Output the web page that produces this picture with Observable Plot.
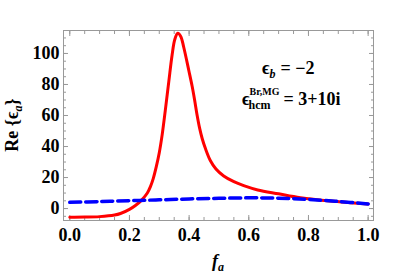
<!DOCTYPE html>
<html><head><meta charset="utf-8">
<script src="https://cdn.jsdelivr.net/npm/d3@7"></script>
<script src="https://cdn.jsdelivr.net/npm/@observablehq/plot@0.6"></script>
<style>body{margin:0;background:#fff}svg{display:block}</style>
</head><body><div id="chart"></div>
<script>
// Red curve (solid): Re{eps_a} vs f_a
const redF = [0, 0.05, 0.1, 0.15, 0.17, 0.2, 0.22, 0.24, 0.26, 0.27, 0.28, 0.29, 0.3, 0.31, 0.32, 0.332, 0.343, 0.352, 0.362, 0.372, 0.382, 0.399, 0.41, 0.418, 0.427, 0.435, 0.444, 0.455, 0.471, 0.49, 0.516, 0.55, 0.583, 0.63, 0.7, 0.773, 0.874, 0.94, 1.0];
const redV = [-5.6, -5.5, -5.2, -4.2, -3.2, -0.5, 2, 5.3, 10, 14, 19.5, 27, 36, 48, 63, 82, 99, 109, 113, 111, 104, 89, 79, 70.5, 60, 52, 45, 38.5, 31, 25.5, 21, 17.3, 14.8, 12, 9.5, 7, 4.8, 3.8, 3.0];
// Blue curve (dashed)
const blueF = [0, 0.1, 0.2, 0.3, 0.4, 0.5, 0.6, 0.7, 0.8, 0.9, 1.0];
const blueV = [4.0, 4.5, 5.1, 5.6, 6.2, 6.6, 6.9, 6.7, 5.9, 4.6, 3.0];
const xTicks = [0, 0.2, 0.4, 0.6, 0.8, 1.0];
const yTicks = [0, 20, 40, 60, 80, 100];
const xMinor = d3.range(0, 1.0001, 0.05);
const yMinor = d3.range(-5, 114, 5);

const red = redF.map((f, i) => ({f, v: redV[i]}));
const blue = blueF.map((f, i) => ({f, v: blueV[i]}));
const serif = "'Liberation Serif', 'Times New Roman', serif";
const frameCol = "#999";

const plot = Plot.plot({
  width: 402, height: 277,
  marginLeft: 63, marginRight: 29, marginTop: 30, marginBottom: 57,
  style: {fontFamily: serif, fontWeight: "bold", fontSize: "18px", color: "black", background: "white"},
  x: {domain: [-0.021, 1.018]},
  y: {domain: [-7.7, 114.8]},
  marks: [
    Plot.frame({stroke: frameCol}),
    Plot.axisX(xTicks, {anchor: "bottom", tickSize: -5, text: null, stroke: frameCol, label: null}),
    Plot.axisX(xMinor, {anchor: "bottom", tickSize: -3, text: null, stroke: frameCol, label: null}),
    Plot.axisX(xTicks, {anchor: "top", tickSize: -5, text: null, stroke: frameCol, label: null}),
    Plot.axisX(xMinor, {anchor: "top", tickSize: -3, text: null, stroke: frameCol, label: null}),
    Plot.axisY(yTicks, {anchor: "left", tickSize: -5, text: null, stroke: frameCol, label: null}),
    Plot.axisY(yMinor, {anchor: "left", tickSize: -3, text: null, stroke: frameCol, label: null}),
    Plot.axisY(yTicks, {anchor: "right", tickSize: -5, text: null, stroke: frameCol, label: null}),
    Plot.axisY(yMinor, {anchor: "right", tickSize: -3, text: null, stroke: frameCol, label: null}),
    Plot.axisX(xTicks, {anchor: "bottom", tickSize: 0, tickPadding: 8, tickFormat: d3.format(".1f"), label: null, fontSize: 18, fontWeight: "bold", fill: "black"}),
    Plot.axisY(yTicks, {anchor: "left", tickSize: 0, tickPadding: 4, tickFormat: d => String(d), label: null, fontSize: 18, fontWeight: "bold", fill: "black"}),
    Plot.line(red, {x: "f", y: "v", stroke: "#ff0000", strokeWidth: 3, curve: "catmull-rom"}),
    Plot.line(blue, {x: "f", y: "v", stroke: "#0000ff", strokeWidth: 3.5, strokeDasharray: "11,5", curve: "catmull-rom"})
  ]
});
document.getElementById("chart").appendChild(plot);

const svg = d3.select(plot);
const sx = plot.scale("x"), sy = plot.scale("y");
function textEl(x, y) {
  return svg.append("text").attr("x", x).attr("y", y).attr("text-anchor", "start")
    .style("font-family", serif).style("font-weight", "bold").style("font-size", "18px")
    .attr("fill", "black");
}

// annotation 1: ϵ_b = −2
{
  const t = textEl(sx.apply(0.646), sy.apply(86.5));
  t.append("tspan").text("ϵ");
  t.append("tspan").text("b").style("font-style", "italic").style("font-size", "12px").attr("dy", 4);
  t.append("tspan").text("= −2").attr("dy", -4).attr("dx", 5);
}
// annotation 2: ϵ_hcm^{Br,MG} = 3+10i
{
  const t = textEl(sx.apply(0.579), sy.apply(66.5));
  t.append("tspan").text("ϵ");
  t.append("tspan").text("Br,MG").style("font-size", "10px").attr("dy", -10);
  t.append("tspan").text("hcm").style("font-size", "12px").attr("dy", 14).attr("dx", -31);
  t.append("tspan").text("= 3+10i").attr("dy", -4).attr("dx", 13);
}
// y label: Re {ϵ_a}
{
  const g = svg.append("g").attr("transform", `translate(18,${(30 + 220) / 2}) rotate(-90)`);
  const t = g.append("text").attr("text-anchor", "middle")
    .style("font-family", serif).style("font-weight", "bold").style("font-size", "18px").attr("fill", "black");
  t.append("tspan").text("Re {");
  t.append("tspan").text("ϵ");
  t.append("tspan").text("a").style("font-style", "italic").style("font-size", "12px").attr("dy", 4);
  t.append("tspan").text("}").attr("dy", -4);
}
// x label: f_a
{
  const t = svg.append("text").attr("x", (63 + 373) / 2).attr("y", 267).attr("text-anchor", "middle")
    .style("font-family", serif).style("font-weight", "bold").style("font-style", "italic").style("font-size", "18px").attr("fill", "black");
  t.append("tspan").text("f");
  t.append("tspan").text("a").style("font-size", "12px").attr("dy", 4);
}
</script></body></html>
